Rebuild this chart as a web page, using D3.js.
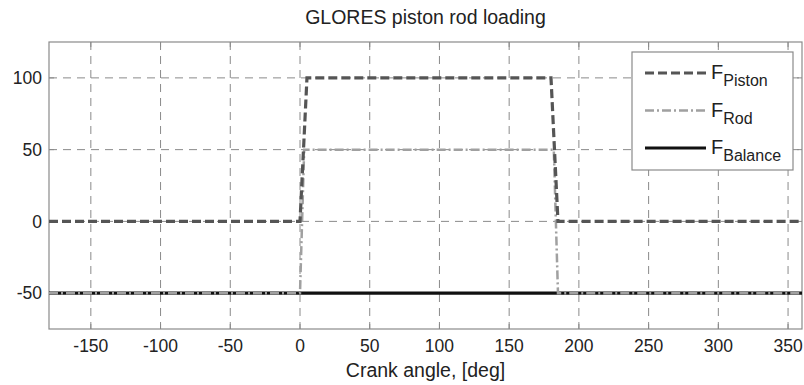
<!DOCTYPE html>
<html>
<head>
<meta charset="utf-8">
<script src="https://cdn.jsdelivr.net/npm/d3@7"></script>
<style>
  body { margin: 0; background: #fff; }
  svg { display: block; font-family: 'Liberation Sans', Arial, sans-serif; }
</style>
</head>
<body>
<div id="chart"></div>
<script>
// ── Data ────────────────────────────────────────────────
const pistonAngle = [-180, 0, 5, 180, 185, 360];
const pistonForce = [0, 0, 100, 100, 0, 0];
const rodAngle = [-180, 0, 3, 182, 185, 360];
const rodForce = [-50, -50, 50, 50, -50, -50];
const balanceAngle = [-180, 360];
const balanceForce = [-50, -50];

const xTicks = [-150, -100, -50, 0, 50, 100, 150, 200, 250, 300, 350];
const yTicks = [-50, 0, 50, 100];

const W = 804, H = 385;
const margin = { top: 42, right: 2, bottom: 56, left: 49 };

const svg = d3.select('#chart').append('svg')
    .attr('width', W).attr('height', H);

const x = d3.scaleLinear().domain([-180, 360]).range([margin.left, W - margin.right]);
const y = d3.scaleLinear().domain([-75, 125]).range([H - margin.bottom, margin.top]);

const gridColor = '#8a8a8a';
const axisColor = '#8a8a8a';
const textColor = '#222';

// ── Grid ────────────────────────────────────────────────
svg.append('g').selectAll('line')
    .data(xTicks).join('line')
    .attr('x1', d => x(d)).attr('x2', d => x(d))
    .attr('y1', y.range()[1]).attr('y2', y.range()[0])
    .attr('stroke', gridColor).attr('stroke-width', 1)
    .attr('stroke-dasharray', '8,6');

svg.append('g').selectAll('line')
    .data(yTicks).join('line')
    .attr('x1', x.range()[0]).attr('x2', x.range()[1])
    .attr('y1', d => y(d)).attr('y2', d => y(d))
    .attr('stroke', gridColor).attr('stroke-width', 1)
    .attr('stroke-dasharray', '8,6');

// ── Axes box + inward ticks ─────────────────────────────
const tickLen = 5;
svg.append('rect')
    .attr('x', x.range()[0]).attr('y', y.range()[1])
    .attr('width', x.range()[1] - x.range()[0])
    .attr('height', y.range()[0] - y.range()[1])
    .attr('fill', 'none').attr('stroke', axisColor).attr('stroke-width', 1.2);

const ticks = svg.append('g').attr('stroke', axisColor).attr('stroke-width', 1);
xTicks.forEach(t => {
    ticks.append('line').attr('x1', x(t)).attr('x2', x(t))
        .attr('y1', y.range()[0]).attr('y2', y.range()[0] - tickLen);
    ticks.append('line').attr('x1', x(t)).attr('x2', x(t))
        .attr('y1', y.range()[1]).attr('y2', y.range()[1] + tickLen);
});
yTicks.forEach(t => {
    ticks.append('line').attr('y1', y(t)).attr('y2', y(t))
        .attr('x1', x.range()[0]).attr('x2', x.range()[0] + tickLen);
    ticks.append('line').attr('y1', y(t)).attr('y2', y(t))
        .attr('x1', x.range()[1]).attr('x2', x.range()[1] - tickLen);
});

// tick labels
svg.append('g').selectAll('text')
    .data(xTicks).join('text')
    .attr('x', d => x(d)).attr('y', y.range()[0] + 23)
    .attr('text-anchor', 'middle')
    .attr('font-size', 17.5).attr('fill', textColor)
    .text(d => d);

svg.append('g').selectAll('text')
    .data(yTicks).join('text')
    .attr('x', x.range()[0] - 7).attr('y', d => y(d))
    .attr('dy', '0.35em')
    .attr('text-anchor', 'end')
    .attr('font-size', 17.5).attr('fill', textColor)
    .text(d => d);

// ── Series ──────────────────────────────────────────────
const line = d3.line().x(d => x(d[0])).y(d => y(d[1]));
const zipPts = (a, b) => a.map((v, i) => [v, b[i]]);

svg.append('path')
    .attr('d', line(zipPts(balanceAngle, balanceForce)))
    .attr('fill', 'none').attr('stroke', '#111').attr('stroke-width', 3.2);

svg.append('path')
    .attr('d', line(zipPts(rodAngle, rodForce)))
    .attr('fill', 'none').attr('stroke', '#a0a0a0').attr('stroke-width', 2.5)
    .attr('stroke-dasharray', '9,3,2,3');

svg.append('path')
    .attr('d', line(zipPts(pistonAngle, pistonForce)))
    .attr('fill', 'none').attr('stroke', '#555').attr('stroke-width', 3.2)
    .attr('stroke-dasharray', '9,4');

// ── Titles ──────────────────────────────────────────────
svg.append('text')
    .attr('x', (x.range()[0] + x.range()[1]) / 2).attr('y', 24)
    .attr('text-anchor', 'middle').attr('font-size', 19.5).attr('fill', textColor)
    .text('GLORES piston rod loading');

svg.append('text')
    .attr('x', (x.range()[0] + x.range()[1]) / 2).attr('y', 377)
    .attr('text-anchor', 'middle').attr('font-size', 19.5).attr('fill', textColor)
    .text('Crank angle, [deg]');

// ── Legend ──────────────────────────────────────────────
const legendItems = [
    { sub: 'Piston', color: '#555', width: 3.2, dash: '9,4' },
    { sub: 'Rod', color: '#a0a0a0', width: 2.5, dash: '9,3,2,3' },
    { sub: 'Balance', color: '#111', width: 3.2, dash: null }
];
const lg = svg.append('g');
lg.append('rect')
    .attr('x', 632).attr('y', 52).attr('width', 161).attr('height', 118)
    .attr('fill', '#fff').attr('stroke', axisColor).attr('stroke-width', 1.2);

legendItems.forEach((it, i) => {
    const ly = 73 + i * 37.5;
    lg.append('line')
        .attr('x1', 645).attr('x2', 706).attr('y1', ly).attr('y2', ly)
        .attr('stroke', it.color).attr('stroke-width', it.width)
        .attr('stroke-dasharray', it.dash);
    const t = lg.append('text')
        .attr('x', 711).attr('y', ly + 6)
        .attr('font-size', 20).attr('fill', textColor);
    t.append('tspan').text('F');
    t.append('tspan').attr('font-size', 16).attr('dy', 7).text(it.sub);
});
</script>
</body>
</html>
